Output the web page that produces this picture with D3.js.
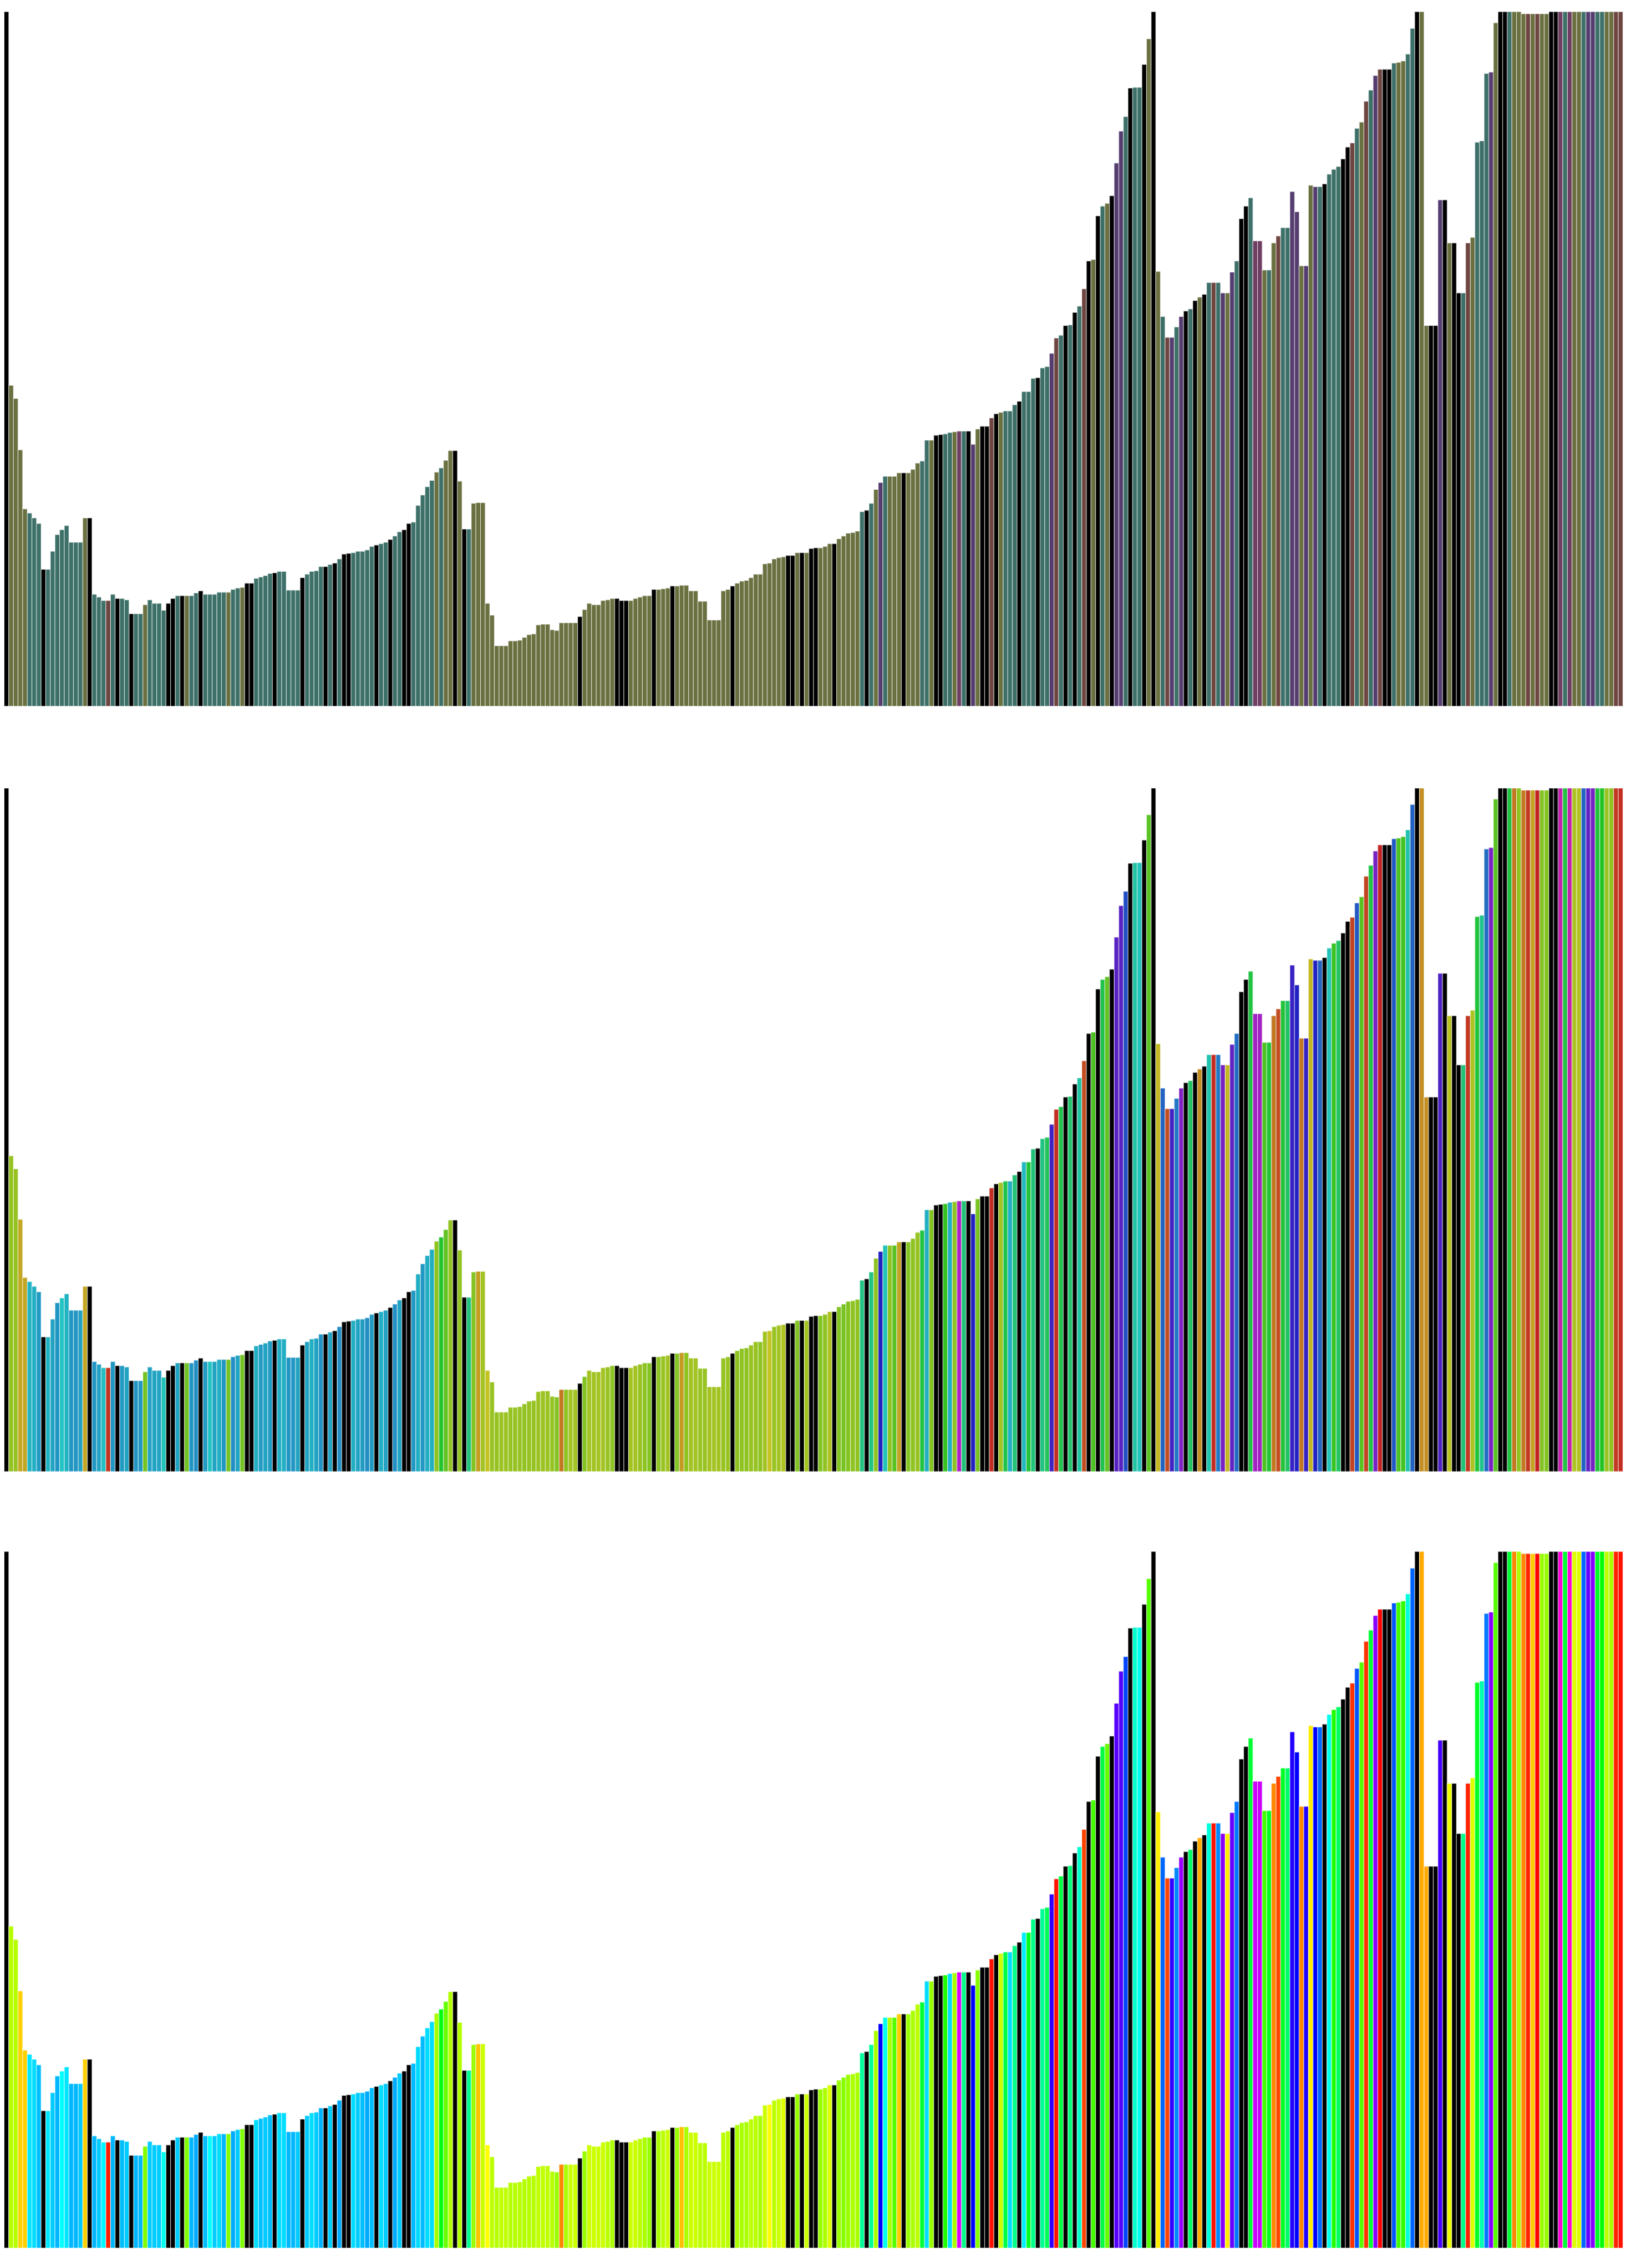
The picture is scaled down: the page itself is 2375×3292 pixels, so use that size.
<!DOCTYPE html>
<html><head><meta charset="utf-8">
<script src="https://cdn.jsdelivr.net/npm/d3@7"></script>
<style>html,body{margin:0;padding:0;background:#fff}svg{display:block}</style>
</head><body>
<svg id="chart" width="2375" height="3292"></svg>
<script>
// bar values (share of the y-domain 0..100)
const values = [
100,46.2,44.3,36.9,28.4,27.8,27.1,26.3,19.7,19.7,
22.3,24.7,25.4,26.0,23.6,23.6,23.6,27.1,27.1,16.1,
15.7,15.2,15.2,16.1,15.5,15.5,15.3,13.3,13.3,13.3,
14.6,15.3,14.8,14.8,13.8,14.8,15.5,15.9,15.9,15.9,
15.9,16.3,16.6,16.1,16.1,16.1,16.4,16.4,16.4,16.8,
17.0,17.1,17.7,17.7,18.4,18.6,18.8,19.1,19.2,19.4,
19.4,16.7,16.7,16.7,18.5,19.0,19.4,19.5,20.1,20.1,
20.4,20.6,21.2,21.9,22.0,22.1,22.3,22.3,22.5,23.0,
23.2,23.4,23.6,24.0,24.5,25.1,25.4,26.3,26.5,28.9,
30.4,31.6,32.5,33.7,34.3,35.4,36.8,36.8,32.4,25.5,
25.5,29.2,29.3,29.3,14.8,13.1,8.7,8.7,8.7,9.4,
9.4,9.5,9.9,10.3,10.4,11.7,11.8,11.8,11.0,10.9,
12.0,12.0,12.0,12.0,12.9,13.9,14.8,14.6,14.6,15.2,
15.3,15.5,15.5,15.2,15.2,15.2,15.5,15.7,15.9,15.9,
16.8,16.8,16.9,17.0,17.3,17.3,17.4,17.4,16.6,16.6,
15.1,15.1,12.4,12.4,12.4,16.6,16.8,17.3,17.7,18.0,
18.1,18.5,19.0,19.0,20.5,20.6,21.2,21.4,21.5,21.7,
21.7,22.1,22.1,22.1,22.7,22.8,22.8,23.0,23.4,23.4,
24.1,24.5,24.9,25.0,25.2,28.0,28.2,29.2,31.2,32.2,
33.1,33.1,33.1,33.6,33.6,33.6,34.1,35.0,35.3,38.3,
38.3,39.0,39.1,39.2,39.4,39.5,39.6,39.6,39.6,37.7,
39.9,40.3,40.3,41.5,42.1,42.3,42.5,42.5,43.4,43.9,
45.3,45.3,47.2,47.3,48.7,48.9,50.8,53.0,53.4,54.8,
54.9,56.7,57.6,60.1,64.1,64.3,70.6,72.0,72.4,73.5,
78.2,82.8,84.9,89.0,89.1,89.1,92.4,96.1,100,62.6,
56.1,53.1,53.1,54.6,56.1,56.9,57.2,58.4,58.9,59.3,
61.0,61.0,61.0,59.5,59.5,62.5,64.1,70.2,72.0,73.2,
67.0,67.0,62.8,62.8,66.7,67.7,68.9,68.9,74.1,71.2,
63.4,63.4,75.0,74.8,74.8,75.2,76.6,77.3,77.7,78.8,
80.5,81.1,83.2,84.1,87.1,88.7,90.8,91.7,91.7,91.7,
92.6,92.7,92.9,93.9,97.6,100,100,54.8,54.8,54.8,
72.9,72.9,66.7,66.7,59.5,59.5,66.7,67.5,81.2,81.4,
91.1,91.3,98.4,100,100,100,100,100,99.7,99.7,
99.7,99.7,99.7,99.7,100,100,100,100,100,100,
100,100,100,100,100,100,100,100,100,100
];
// hue of each bar in degrees; null = black bar
const hues = [
null,77,77,49,49,186,188,195,null,186,
192,197,180,186,197,197,193,49,null,197,
192,182,7,197,null,195,192,null,197,197,
90,192,192,192,176,null,null,192,null,90,
197,200,null,195,180,192,188,197,88,200,
192,90,null,null,188,195,192,195,null,188,
188,197,197,192,null,192,188,192,198,null,
192,null,200,null,null,188,192,195,200,195,
null,188,192,null,200,192,null,null,196,188,
196,188,188,80,124,96,78,null,78,null,
154,84,46,72,60,76,77,75,75,77,
77,77,78,77,77,75,75,75,77,84,
32,80,72,72,null,84,72,72,72,72,
76,80,null,null,null,72,72,76,80,84,
null,80,76,72,null,84,45,80,72,72,
76,76,72,72,72,76,76,null,80,80,
80,76,76,80,72,60,76,72,68,null,
null,84,null,72,null,null,84,80,68,null,
84,88,84,80,80,156,null,156,80,240,
176,80,100,48,null,84,80,76,132,188,
84,null,null,112,188,80,292,152,null,240,
88,null,null,4,null,72,136,188,152,null,
184,128,152,null,156,140,252,4,136,null,
148,null,168,16,null,104,null,136,96,null,
260,260,224,null,168,176,null,100,null,56,
216,16,252,208,276,null,144,null,40,null,
172,4,208,272,56,264,212,null,null,132,
288,288,104,128,32,16,128,144,248,240,
32,248,56,240,216,null,176,112,144,null,
null,12,220,100,12,132,272,0,null,null,
220,104,108,172,216,null,40,40,null,null,
256,null,64,null,null,152,8,68,128,160,
212,272,100,null,null,132,32,80,32,8,
48,0,84,84,null,null,308,132,308,68,
68,216,264,272,128,120,76,80,8,4
];
// muted palette used by the top panel (hue bins)
const mutedBins = [20,110,235,285,330];
const mutedColors = ["#6e4540","#6b7040","#3d7068","#553d70","#703d63","#6e4540"];

const panels = [
  {top:17, bottom:1025, mode:"muted"},
  {top:1144, bottom:2136, mode:"medium"},
  {top:2252, bottom:3263, mode:"vivid"}
];

function colorFor(mode, h){
  if (h === null) return "#000";
  if (mode === "vivid") return d3.hsl(h, 1, 0.5).formatHex();
  if (mode === "medium") return d3.hsl(h, 0.7, 0.45).formatHex();
  const k = d3.bisectRight(mutedBins, h);
  return mutedColors[k];
}

const svg = d3.select("#chart");
const x = d3.scaleBand().domain(d3.range(values.length)).range([6, 2356]).paddingInner(0).paddingOuter(0);

panels.forEach(p => {
  const y = d3.scaleLinear().domain([0, 100]).range([p.bottom, p.top]).clamp(true);
  svg.append("g")
    .selectAll("rect")
    .data(values)
    .join("rect")
    .attr("x", (d, i) => x(i))
    .attr("width", x.bandwidth())
    .attr("y", d => y(d))
    .attr("height", d => p.bottom - y(d))
    .attr("fill", (d, i) => colorFor(p.mode, hues[i]))
    .attr("stroke", "#fff")
    .attr("stroke-opacity", 0.55)
    .attr("stroke-width", 1);
});
</script>
</body></html>
